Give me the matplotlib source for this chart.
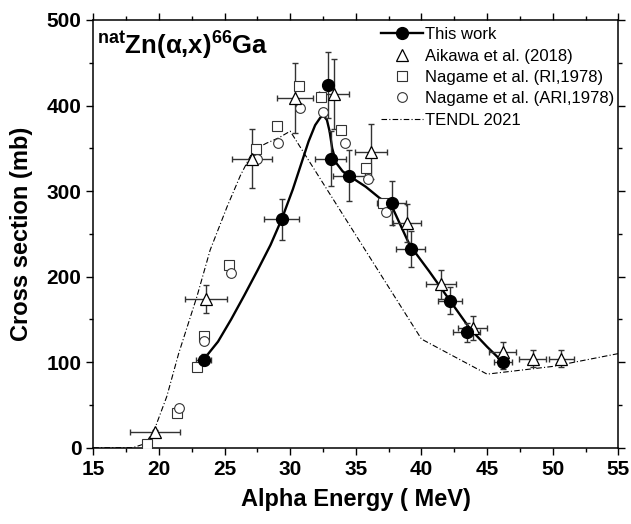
import matplotlib
matplotlib.use("Agg")
import matplotlib.pyplot as plt
from matplotlib.lines import Line2D

plt.rcParams['font.family'] = ['Liberation Sans', 'DejaVu Sans']
plt.rcParams['mathtext.fontset'] = 'custom'
plt.rcParams['mathtext.rm'] = 'Liberation Sans:bold'
plt.rcParams['mathtext.it'] = 'Liberation Sans:bold'
plt.rcParams['mathtext.bf'] = 'Liberation Sans:bold'

# This work (filled circles)
tw_e = [23.4, 29.35, 32.85, 33.08, 34.47, 37.72, 39.17, 42.17, 43.44, 46.23]
tw_cs = [103, 267, 424, 338, 318, 286, 232, 172, 135, 100]
tw_de = [0.6, 1.33, 0.0, 1.2, 1.2, 1.14, 1.13, 0.93, 1.0, 0.7]
tw_dcs = [6, 24, 39, 32, 30, 26, 21, 16, 11, 8]

# Aikawa et al. (2018)
ak_e = [19.7, 23.56, 27.06, 30.36, 33.36, 36.15, 38.9, 41.48, 43.9, 46.18, 48.47, 50.67]
ak_cs = [18, 174, 338, 409, 413, 346, 263, 191, 140, 112, 104, 104]
ak_de = [1.88, 1.59, 1.52, 1.4, 1.14, 1.2, 1.07, 1.12, 1.1, 1.0, 1.04, 0.97]
ak_dcs = [3, 16, 34, 41, 41, 32, 22, 17, 14, 11, 10, 10]

# Nagame et al. (RI,1978)
ri_e = [19.07, 21.35, 22.9, 23.4, 25.3, 27.37, 28.97, 30.64, 32.34, 33.87, 35.77, 37.1]
ri_cs = [4, 41, 94, 131, 214, 349, 376, 423, 410, 371, 327, 286]

# Nagame et al. (ARI,1978)
ari_e = [21.5, 23.45, 25.46, 27.45, 29.07, 30.74, 32.47, 34.17, 35.95, 37.3]
ari_cs = [46, 125, 204, 337, 356, 397, 393, 356, 314, 275]

# TENDL 2021
tendl_e = [15, 18.0, 19.0, 19.7, 20.6, 21.5, 22.9, 23.9, 25.2, 26.2, 27.2, 28.2, 29.1, 30.0, 40.0, 45.0, 50.0, 55.0]
tendl_cs = [0, 0, 5, 23, 60, 110, 177, 231, 282, 318, 348, 356, 362, 370, 127, 86, 95, 110]

# fit curve through this work
fit_e = [23.4, 24.5, 25.5, 26.5, 27.5, 28.5, 29.35, 30.2, 30.8, 31.4, 31.9, 32.3, 32.55, 32.8, 33.0,
         33.2, 33.5, 34.0, 34.47, 35.76, 36.8, 37.72, 39.1, 40.6, 42.17, 43.7, 45.0, 46.2]
fit_cs = [103, 124, 150, 178, 207, 237, 267, 302, 330, 358, 377, 386, 388, 383, 370,
          350, 333, 323, 318, 305, 292, 283, 237, 206, 172, 139, 118, 100]

fig = plt.figure(figsize=(6.31, 5.24), dpi=100)
ax = fig.add_axes([0.1479, 0.1456, 0.832, 0.8163])

tendl_ls = (0, (5, 2, 1, 2))
ax.plot(tendl_e, tendl_cs, color='black', lw=0.8, ls=tendl_ls, zorder=2)
ax.plot(fit_e, fit_cs, color='black', lw=1.7, zorder=3)

ecol = '#333333'
ax.errorbar(ak_e, ak_cs, xerr=ak_de, yerr=ak_dcs, fmt='none', ecolor=ecol,
            elinewidth=1.0, capsize=2.5, capthick=1.0, zorder=4)
ax.errorbar(tw_e, tw_cs, xerr=tw_de, yerr=tw_dcs, fmt='none', ecolor=ecol,
            elinewidth=1.0, capsize=2.5, capthick=1.0, zorder=4)

ax.plot(ri_e, ri_cs, 's', ms=6.5, mfc='white', mec='#333333', mew=0.8, zorder=5)
ax.plot(ari_e, ari_cs, 'o', ms=7, mfc='white', mec='#333333', mew=0.8, zorder=5)
ax.plot(ak_e, ak_cs, '^', ms=8, mfc='white', mec='black', mew=0.9, zorder=6)
ax.plot(tw_e, tw_cs, 'o', ms=8.5, mfc='black', mec='black', zorder=7)

ax.set_xlim(15, 55)
ax.set_ylim(0, 500)
ax.set_xticks(range(15, 56, 5))
ax.set_xticks([x + 2.5 for x in range(15, 55, 5)], minor=True)
ax.set_yticks(range(0, 501, 100))
ax.set_yticks(range(50, 500, 100), minor=True)
ax.tick_params(which='both', direction='out', top=True, right=True, width=1.0)
ax.tick_params(which='major', length=5, labelsize=15)
ax.tick_params(which='minor', length=3)
for lab in ax.get_xticklabels() + ax.get_yticklabels():
    lab.set_fontweight('bold')
for sp in ax.spines.values():
    sp.set_linewidth(1.1)

ax.set_xlabel('Alpha Energy ( MeV)', fontsize=17, fontweight='bold', labelpad=7)
ax.set_ylabel('Cross section (mb)', fontsize=17, fontweight='bold', labelpad=10)

ax.text(15.3, 459, r'$^{nat}$Zn(α,x)$^{66}$Ga', fontsize=18.5, fontweight='bold',
        va='baseline', ha='left')

handles = [
    Line2D([], [], color='black', lw=1.7, marker='o', ms=8.5, mfc='black'),
    Line2D([], [], ls='none', marker='^', ms=8, mfc='white', mec='black', mew=0.9),
    Line2D([], [], ls='none', marker='s', ms=6.5, mfc='white', mec='#333333', mew=0.8),
    Line2D([], [], ls='none', marker='o', ms=7, mfc='white', mec='#333333', mew=0.8),
    Line2D([], [], color='black', lw=0.8, ls=tendl_ls),
]
labels = ['This work', 'Aikawa et al. (2018)', 'Nagame et al. (RI,1978)',
          'Nagame et al. (ARI,1978)', 'TENDL 2021']
ax.legend(handles, labels, loc='upper left', bbox_to_anchor=(0.548, 0.983),
          frameon=False, fontsize=12, borderpad=0, borderaxespad=0,
          handlelength=2.5, handletextpad=0.15, labelspacing=0.38)

fig.savefig('out.png', dpi=100)
